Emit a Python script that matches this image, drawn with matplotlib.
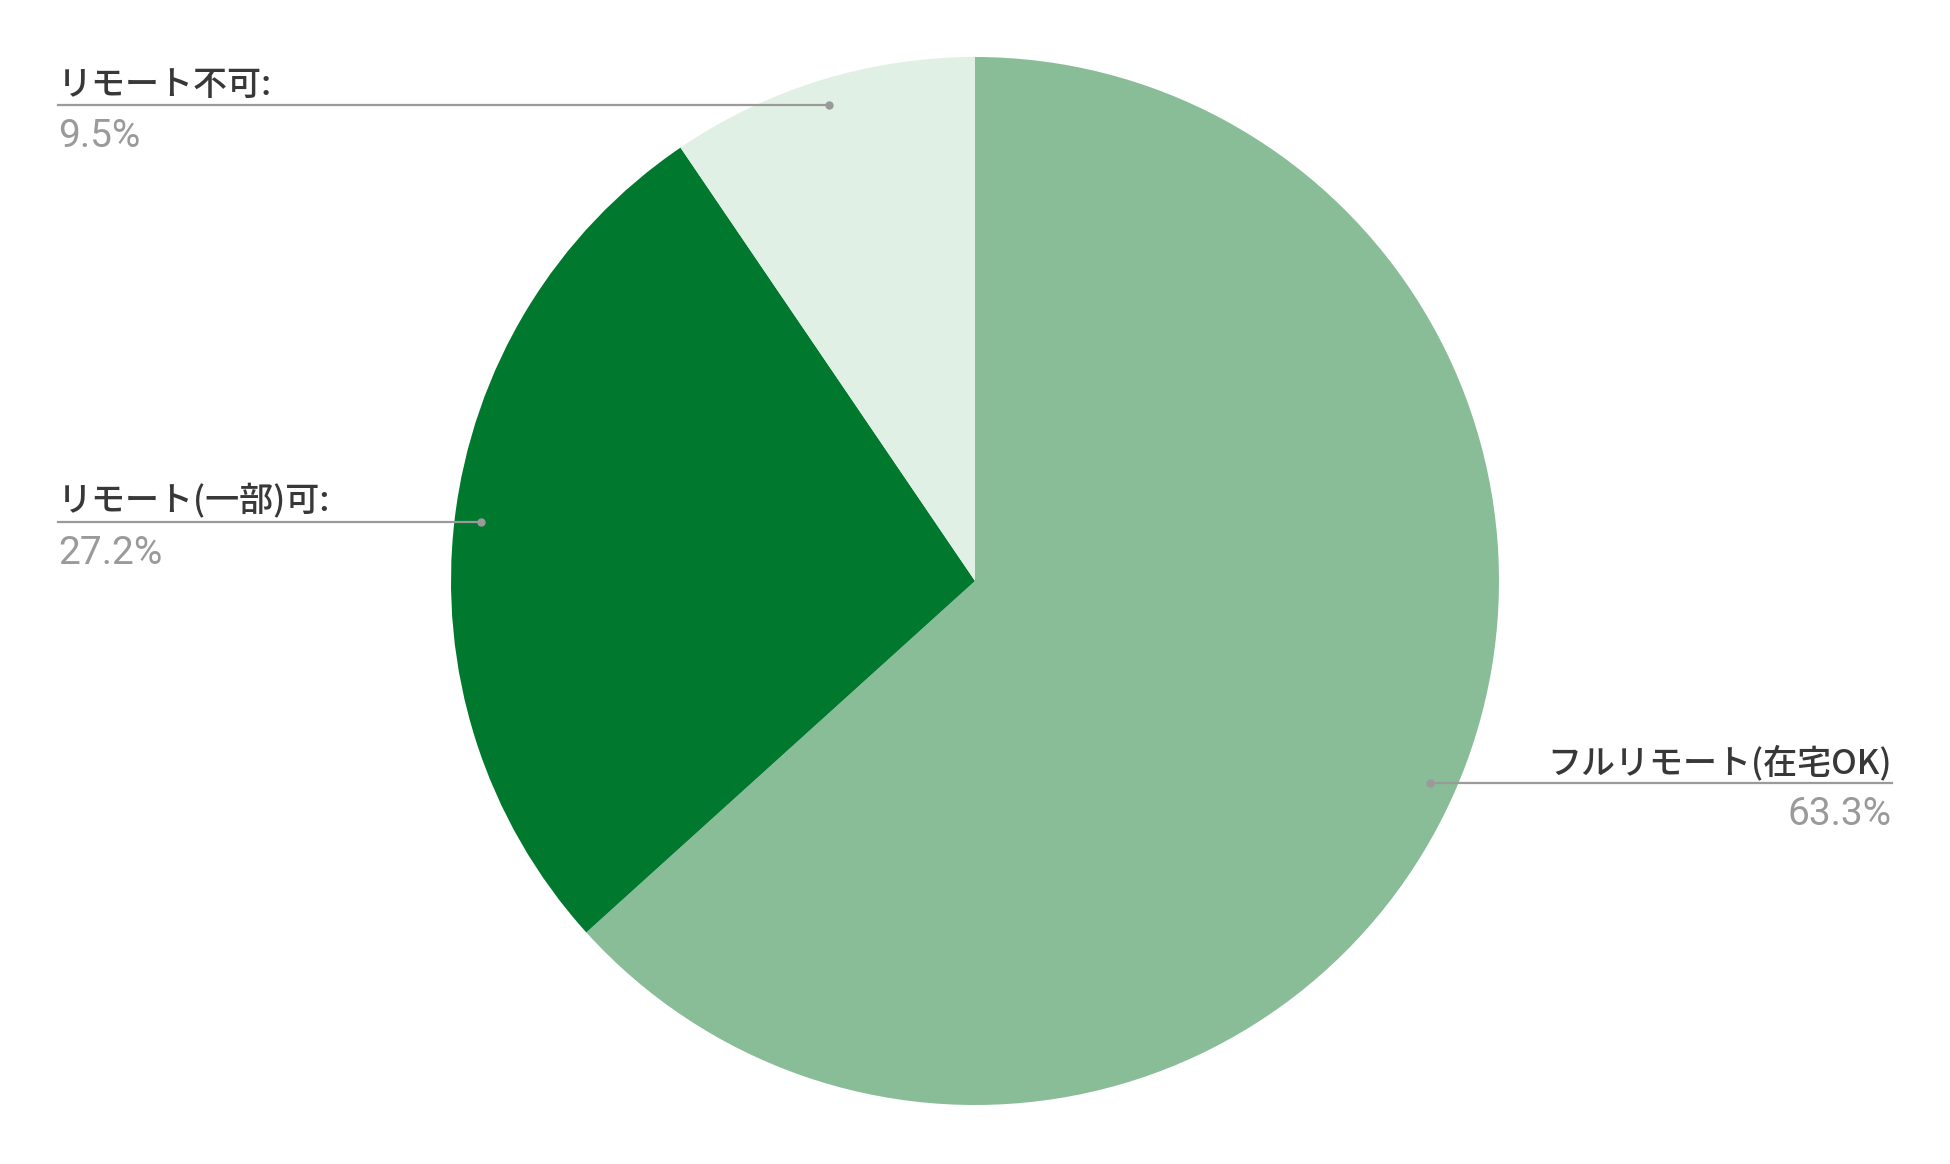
import numpy as np
import matplotlib
matplotlib.use("Agg")
import matplotlib.pyplot as plt

# data
labels = ["フルリモート(在宅OK)", "リモート(一部)可:", "リモート不可:"]
shares = [63.3, 27.2, 9.5]
pct_text = ["63.3%", "27.2%", "9.5%"]
colors = ["#88bd97", "#00792f", "#e0f0e4"]

W, H = 1950, 1164
fig = plt.figure(figsize=(W / 100, H / 100), dpi=100)
ax = fig.add_axes([0, 0, 1, 1])

# pie placed in pixel units
cx, cy, r = 975, H - 581, 524
wedges, _ = ax.pie(shares, colors=colors, startangle=90, counterclock=False,
                   center=(cx, cy), radius=r,
                   wedgeprops=dict(linewidth=0))
ax.set_xlim(0, W)
ax.set_ylim(0, H)
ax.set_aspect("equal")
ax.axis("off")

label_font = ["Noto Sans CJK JP", "DejaVu Sans"]
line_c = "#9a9a9a"

for w, lab, pct in zip(wedges, labels, pct_text):
    mid = np.deg2rad((w.theta1 + w.theta2) / 2)
    dx = cx + 0.95 * r * np.cos(mid)
    dy = cy + 0.95 * r * np.sin(mid)
    right = np.cos(mid) > 0
    x_end = 1892 if right else 58
    ax.plot([dx, x_end], [dy, dy], color=line_c, lw=1.6, zorder=3)
    ax.plot(dx, dy, "o", color=line_c, ms=5, zorder=4)
    ha = "right" if right else "left"
    ax.text(x_end, dy + 10, lab, ha=ha, va="baseline", fontsize=24.5,
            family=label_font, weight="medium", color="#383838")
    ax.text(x_end, dy - 13, pct, ha=ha, va="top", fontsize=28,
            family="Roboto", color="#9a9a9a")

fig.savefig("out.png", dpi=100, facecolor="white")
